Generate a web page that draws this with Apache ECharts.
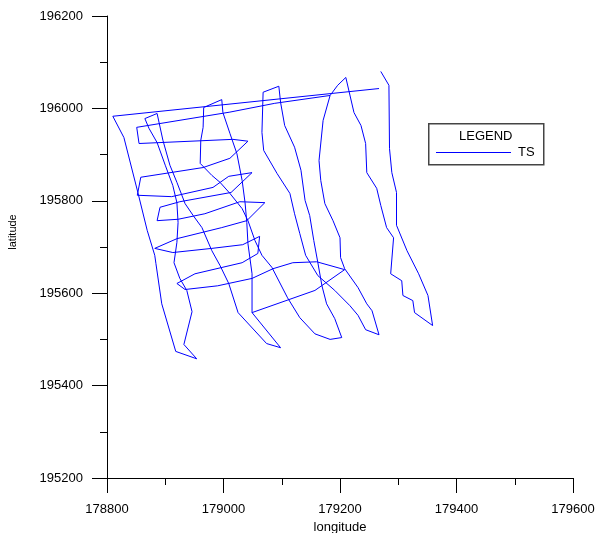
<!DOCTYPE html>
<html>
<head>
<meta charset="utf-8">
<script src="https://cdn.jsdelivr.net/npm/echarts@6/dist/echarts.min.js"></script>
<style>
  html, body { margin: 0; padding: 0; background: #ffffff; }
  #chart { width: 596px; height: 533px; }
</style>
</head>
<body>
<div id="chart"></div>
<script>
// Axis ticks
const xTicks = [178800, 179000, 179200, 179400, 179600];
const yTicks = [195200, 195400, 195600, 195800, 196000, 196200];

// Track segments of the TS survey, [longitude, latitude]
const lineNorth = [[179267, 196043], [178810, 195983]];
const lineNorth2 = [[178851, 195959], [179011, 195992], [179088, 196011], [179183, 196028], [179196, 196050], [179210, 196067]];
const trackA = [[178810, 195983], [178829, 195937], [178853, 195818], [178869, 195736], [178882, 195682], [178884, 195664],
  [178894, 195577], [178918, 195474], [178954, 195458]];
const trackA2 = [[178954, 195458], [178932, 195489], [178946, 195560], [178937, 195606], [178925, 195632], [178915, 195666],
  [178920, 195710], [178922, 195753], [178920, 195796], [178913, 195833], [178900, 195877], [178886, 195926],
  [178872, 195957], [178865, 195978], [178886, 195989]];
const trackB = [[178886, 195989], [178896, 195931], [178908, 195877], [178920, 195840], [178934, 195794], [178948, 195768],
  [178963, 195742], [178980, 195692], [178994, 195660], [179009, 195621], [179025, 195558], [179074, 195491], [179098, 195482]];
const trackC = [[179098, 195482], [179049, 195558], [179049, 195642], [179042, 195707], [179040, 195753], [179037, 195796],
  [179032, 195844], [179023, 195902], [179011, 195946], [178999, 195991], [178997, 196019], [178966, 196002]];
const trackC2 = [[178966, 196002], [178965, 195959], [178961, 195931], [178960, 195881], [178980, 195855], [178994, 195840],
  [179011, 195816], [179032, 195783], [179042, 195757], [179054, 195714], [179066, 195682], [179083, 195656],
  [179110, 195590], [179131, 195547], [179157, 195512], [179183, 195500], [179203, 195504]];
const trackD = [[179203, 195504], [179191, 195545], [179177, 195577], [179169, 195616], [179162, 195666], [179155, 195714],
  [179148, 195768], [179140, 195801], [179133, 195866], [179122, 195916], [179105, 195963], [179098, 196013],
  [179095, 196048], [179068, 196035]];
const trackD2 = [[179068, 196035], [179066, 195948], [179069, 195909], [179092, 195859], [179114, 195816], [179122, 195772],
  [179131, 195729], [179141, 195682], [179162, 195638], [179191, 195606], [179217, 195573], [179231, 195552], [179244, 195521], [179267, 195510]];
const trackE = [[179267, 195510], [179255, 195562], [179246, 195577], [179231, 195612], [179208, 195653], [179201, 195677],
  [179200, 195720], [179188, 195757], [179174, 195794], [179167, 195844], [179164, 195887], [179171, 195974], [179183, 196028]];
const trackE2 = [[179210, 196067], [179224, 195991], [179236, 195963], [179244, 195924], [179246, 195861], [179263, 195827],
  [179270, 195790], [179280, 195742], [179292, 195720], [179287, 195642], [179306, 195627], [179308, 195595],
  [179325, 195584], [179328, 195558], [179359, 195530]];
const trackR = [[179270, 196080], [179284, 196050], [179285, 195913], [179289, 195861], [179297, 195818], [179297, 195747],
  [179315, 195692], [179335, 195642], [179351, 195595], [179359, 195530]];
const crossLines = [[178851, 195959], [178855, 195924], [179016, 195933], [179042, 195929], [179011, 195892], [178965, 195872],
  [178858, 195851], [178852, 195812], [178911, 195809], [178982, 195829], [179009, 195853], [179049, 195861],
  [179013, 195818], [178925, 195798], [178891, 195786], [178886, 195757], [178922, 195760], [178968, 195772],
  [179028, 195798], [179071, 195796], [179040, 195757], [178997, 195742], [178920, 195718], [178882, 195697],
  [178913, 195688], [178980, 195697], [179033, 195705], [179062, 195723], [179059, 195686], [179032, 195666],
  [178951, 195642], [178920, 195621], [178934, 195608], [178990, 195616], [179049, 195632], [179085, 195653],
  [179119, 195666], [179160, 195668], [179208, 195651], [179157, 195606], [179049, 195558]];

const segments = [lineNorth, lineNorth2, trackA, trackA2, trackB, trackC, trackC2, trackD, trackD2,
  trackE, trackE2, trackR, crossLines];

const chart = echarts.init(document.getElementById('chart'), null, { renderer: 'canvas' });
const FONT = '"Liberation Sans", Arial, sans-serif';
const LINE_COLOR = '#0000ff';

// fresh axis config each call, so the two axes never share option objects
function makeAxis(ticks, labelMargin) {
  return {
    type: 'value',
    min: ticks[0],
    max: ticks[ticks.length - 1],
    interval: 200,
    axisLine: { show: true, onZero: false, lineStyle: { color: '#000', width: 1 } },
    axisTick: { show: true, inside: false, length: 15, lineStyle: { color: '#000', width: 1 } },
    minorTick: { show: true, splitNumber: 2, length: 7, lineStyle: { color: '#000', width: 1 } },
    splitLine: { show: false },
    axisLabel: { color: '#000', fontSize: 13, fontFamily: FONT, margin: labelMargin,
      formatter: function (v) { return String(v); } }
  };
}

const xAxis = makeAxis(xTicks, 25);
xAxis.name = 'longitude';
xAxis.nameLocation = 'middle';
xAxis.nameGap = 36;
xAxis.nameTextStyle = { color: '#000', fontSize: 13, fontFamily: FONT };

const yAxis = makeAxis(yTicks, 24);

chart.setOption({
  animation: false,
  backgroundColor: '#ffffff',
  grid: { left: 107, top: 16, width: 466, height: 462, containLabel: false, outerBoundsMode: 'none' },
  xAxis: xAxis,
  yAxis: yAxis,
  graphic: [
    // legend box with its sample line for the TS series
    { type: 'rect', left: 428, top: 123, z: 0,
      shape: { width: 115, height: 41 },
      style: { fill: '#fff', stroke: '#444', lineWidth: 1.5 } },
    { type: 'text', left: 459, top: 130,
      style: { text: 'LEGEND', fill: '#000', font: '13px ' + FONT } },
    { type: 'line', z: 5,
      shape: { x1: 436, y1: 152.5, x2: 511, y2: 152.5 },
      style: { stroke: LINE_COLOR, lineWidth: 1 } },
    { type: 'text', x: 518, y: 152, z: 5,
      style: { text: 'TS', fill: '#000', font: '13px ' + FONT, verticalAlign: 'middle' } },
    { type: 'text', x: 13, y: 232, rotation: Math.PI / 2,
      style: { text: 'latitude', fill: '#000', font: '11px ' + FONT, align: 'center', verticalAlign: 'middle' } }
  ],
  series: segments.map(function (seg) {
    return {
      name: 'TS', type: 'line', data: seg,
      symbol: 'none', showSymbol: false, silent: true,
      lineStyle: { color: LINE_COLOR, width: 1 },
      itemStyle: { color: LINE_COLOR }
    };
  })
});
</script>
</body>
</html>
